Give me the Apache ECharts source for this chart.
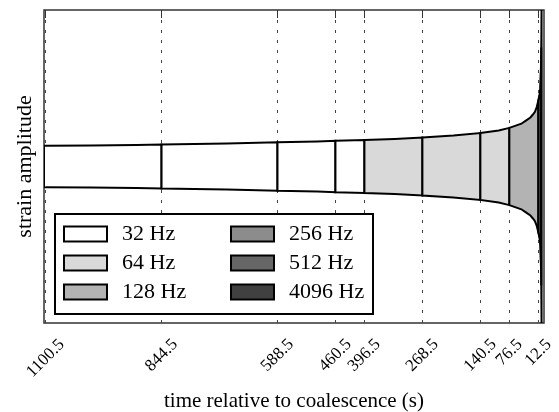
<!DOCTYPE html>
<html>
<head>
<meta charset="utf-8">
<script src="https://cdn.jsdelivr.net/npm/echarts@6/dist/echarts.min.js"></script>
<style>html,body{margin:0;padding:0;background:#fff;}#chart{width:559px;height:412px;}</style>
</head>
<body>
<div id="chart"></div>
<script>
// Tick positions on the time axis (seconds before coalescence)
const tickValues = [1100.5, 844.5, 588.5, 460.5, 396.5, 268.5, 140.5, 76.5, 12.5];
// Envelope of the strain (half-height, arbitrary units)
const times     = [1104, 1100.5, 1000, 900, 844.5, 700, 588.5, 500, 460.5, 396.5, 330, 268.5, 200, 140.5, 100, 76.5, 50, 40, 30, 25, 20, 16, 12.5, 10, 8.5, 7, 6.5, 6, 5.7, 5.4];
const amplitude = [0.99, 1.00, 1.01, 1.03, 1.05, 1.10, 1.16, 1.20, 1.23, 1.27, 1.32, 1.39, 1.48, 1.60, 1.73, 1.85, 2.05, 2.20, 2.35, 2.48, 2.62, 2.85, 3.15, 3.40, 3.70, 4.50, 5.00, 5.70, 6.50, 7.50];
// Segment edges and the frequency band of each segment
const segmentEdges = [1104, 844.5, 588.5, 460.5, 396.5, 268.5, 140.5, 76.5, 12.5, 7, 6, 5.4];
const segmentBand  = ['32 Hz', '32 Hz', '32 Hz', '32 Hz', '64 Hz', '64 Hz', '64 Hz', '128 Hz', '256 Hz', '512 Hz', '4096 Hz'];
const bands      = ['32 Hz', '64 Hz', '128 Hz', '256 Hz', '512 Hz', '4096 Hz'];
const bandColors = ['#ffffff', '#d9d9d9', '#b3b3b3', '#8c8c8c', '#666666', '#404040'];

const FONT = "'Liberation Serif', 'DejaVu Serif', serif";
const chart = echarts.init(document.getElementById('chart'), null, {renderer: 'canvas'});

function segmentPolygon(tStart, tEnd, api) {
  const up = [], low = [];
  for (let i = 0; i < times.length; i++) {
    const t = times[i];
    if (t <= tStart && t >= tEnd) {
      up.push(api.coord([t, amplitude[i]]));
      low.push(api.coord([t, -amplitude[i]]));
    }
  }
  return up.concat(low.reverse());
}

const series = bands.map((b, bi) => {
  const data = [];
  for (let s = 0; s < segmentBand.length; s++) {
    if (segmentBand[s] === b) data.push([segmentEdges[s], segmentEdges[s + 1]]);
  }
  return {
    name: b,
    type: 'custom',
    xAxisIndex: 0,
    yAxisIndex: 0,
    itemStyle: {color: bandColors[bi]},
    clip: true,
    encode: {x: [0, 1]},
    data: data,
    renderItem: function (params, api) {
      const pts = segmentPolygon(api.value(0), api.value(1), api);
      return {
        type: 'polygon',
        shape: {points: pts},
        style: {fill: bandColors[bi], stroke: '#000', lineWidth: 2}
      };
    }
  };
});

const LS = 17;
const rich = {
  p6: {padding: [23, 23, 0, 0], fontSize: LS, fontFamily: FONT, color: '#000'},
  p5: {padding: [19, 19, 0, 0], fontSize: LS, fontFamily: FONT, color: '#000'},
  p4: {padding: [15, 15, 0, 0], fontSize: LS, fontFamily: FONT, color: '#000'}
};

const option = {
  animation: false,
  backgroundColor: '#fff',
  grid: {left: 44, right: 15, top: 10, bottom: 89, show: true, borderColor: '#333', borderWidth: 1.5,
         backgroundColor: 'transparent', outerBoundsMode: 'none', containLabel: false},
  xAxis: [{
    type: 'value', inverse: true, min: 0, max: 1104, position: 'bottom',
    name: 'time relative to coalescence (s)', nameLocation: 'middle', nameGap: 68,
    nameTextStyle: {fontFamily: FONT, fontSize: 21, color: '#000'},
    axisLine: {show: false},
    axisTick: {show: true, inside: true, length: 10, customValues: tickValues, lineStyle: {color: '#333', width: 1}},
    axisLabel: {
      show: true, customValues: tickValues, rotate: 45, margin: 19, align: 'center', verticalAlign: 'middle',
      fontFamily: FONT, fontSize: LS, color: '#000',
      formatter: function (v) { const s = String(v); return '{p' + s.length + '|' + s + '}'; },
      rich: rich
    },
    splitLine: {show: true, lineStyle: {type: [3, 7], color: '#444', width: 1}}
  }, {
    type: 'value', inverse: true, min: 0, max: 1104, position: 'top',
    axisLine: {show: false},
    axisTick: {show: true, inside: true, length: 8, customValues: tickValues, lineStyle: {color: '#333', width: 1}},
    axisLabel: {show: false},
    splitLine: {show: false}
  }],
  yAxis: {
    type: 'value', min: -7.5, max: 7.5,
    name: 'strain amplitude', nameLocation: 'middle', nameGap: 8,
    nameTextStyle: {fontFamily: FONT, fontSize: 22, color: '#000'},
    axisLine: {show: false}, axisTick: {show: false}, axisLabel: {show: false}, splitLine: {show: false}
  },
  legend: {
    orient: 'vertical', left: 55, top: 214, height: 82,
    padding: [9, 6, 11, 8],
    itemWidth: 43, itemHeight: 15, itemGap: 7,
    icon: 'rect',
    itemStyle: {borderColor: '#000', borderWidth: 2},
    borderColor: '#000', borderWidth: 2, backgroundColor: '#fff',
    selectedMode: false,
    textStyle: {fontFamily: FONT, fontSize: 22, color: '#000', lineHeight: 15, padding: [0, 0, 0, 10]},
    data: bands.map((b, i) => ({name: b, textStyle: {width: i < 3 ? 101 : 78}}))
  },
  series: series
};
chart.setOption(option);
</script>
</body>
</html>
